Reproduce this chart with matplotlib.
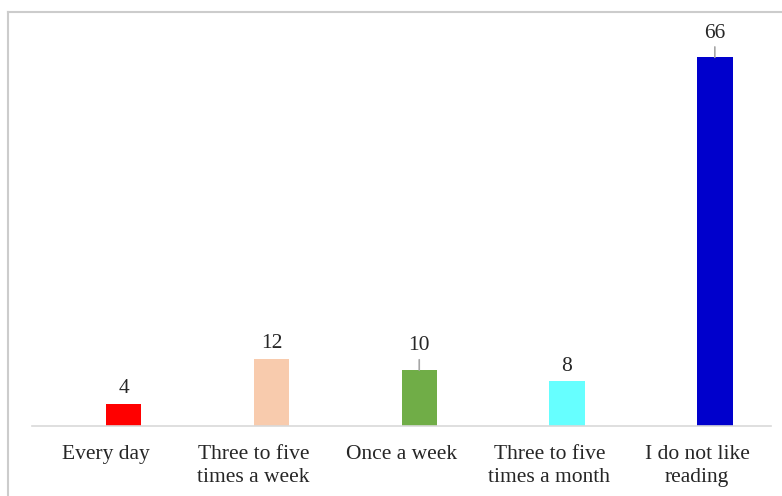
import matplotlib.pyplot as plt
from matplotlib.lines import Line2D
import numpy as np

# Данные диаграммы
categories = ["Every day", "Three to five\ntimes a week", "Once a week",
              "Three to five\ntimes a month", "I do not like\nreading"]
values = [4, 12, 10, 8, 66]
colors = ["#FF0000", "#F8CBAD", "#70AD47", "#66FFFF", "#0000CC"]
# подписи, у которых есть выносная линия
leader = [False, False, True, False, True]

plt.rcParams['font.family'] = ['Liberation Serif', 'DejaVu Serif']

W, H = 782, 496
fig = plt.figure(figsize=(W / 100, H / 100), dpi=100)
ax = fig.add_axes([32 / W, (H - 426) / H, (771 - 32) / W, (426 - 35) / H])

x = np.arange(len(values))
bw = 0.24
ax.bar(x, values, width=bw, align='edge', color=colors, zorder=2)

ax.set_xlim(-0.5, len(values) - 0.5)
ax.set_ylim(0, 70)

# Подписи значений
for xi, v, ld in zip(x, values, leader):
    cx = xi + bw / 2
    if ld:
        ax.annotate(str(v), xy=(cx, v), xytext=(0, 17.5), textcoords='offset points',
                    ha='center', va='center', fontsize=15.5, color='#262626')
        ax.annotate('', xy=(cx, v), xytext=(0, 7.5), textcoords='offset points',
                    arrowprops=dict(arrowstyle='-', color='#a6a6a6', lw=1.2,
                                    shrinkA=0, shrinkB=0))
    else:
        ax.annotate(str(v), xy=(cx, v), xytext=(0, 11), textcoords='offset points',
                    ha='center', va='center', fontsize=15.5, color='#262626')

ax.set_xticks(x)
ax.set_xticklabels(categories, fontsize=15.5, linespacing=1.25, color='#262626')
ax.tick_params(axis='x', length=0, pad=14)
ax.set_yticks([])
for s in ['top', 'right', 'left']:
    ax.spines[s].set_visible(False)
ax.spines['bottom'].set_color('#d9d9d9')
ax.spines['bottom'].set_linewidth(1.2)

# Рамка вокруг диаграммы (обрезанная справа и снизу)
fig.add_artist(Line2D([7.5 / W, 1], [1 - 12 / H, 1 - 12 / H], color='#cccccc', lw=1.5,
                      transform=fig.transFigure))
fig.add_artist(Line2D([7.5 / W, 7.5 / W], [0, 1 - 12 / H], color='#cccccc', lw=1.5,
                      transform=fig.transFigure))

fig.savefig('out.png', dpi=100)
